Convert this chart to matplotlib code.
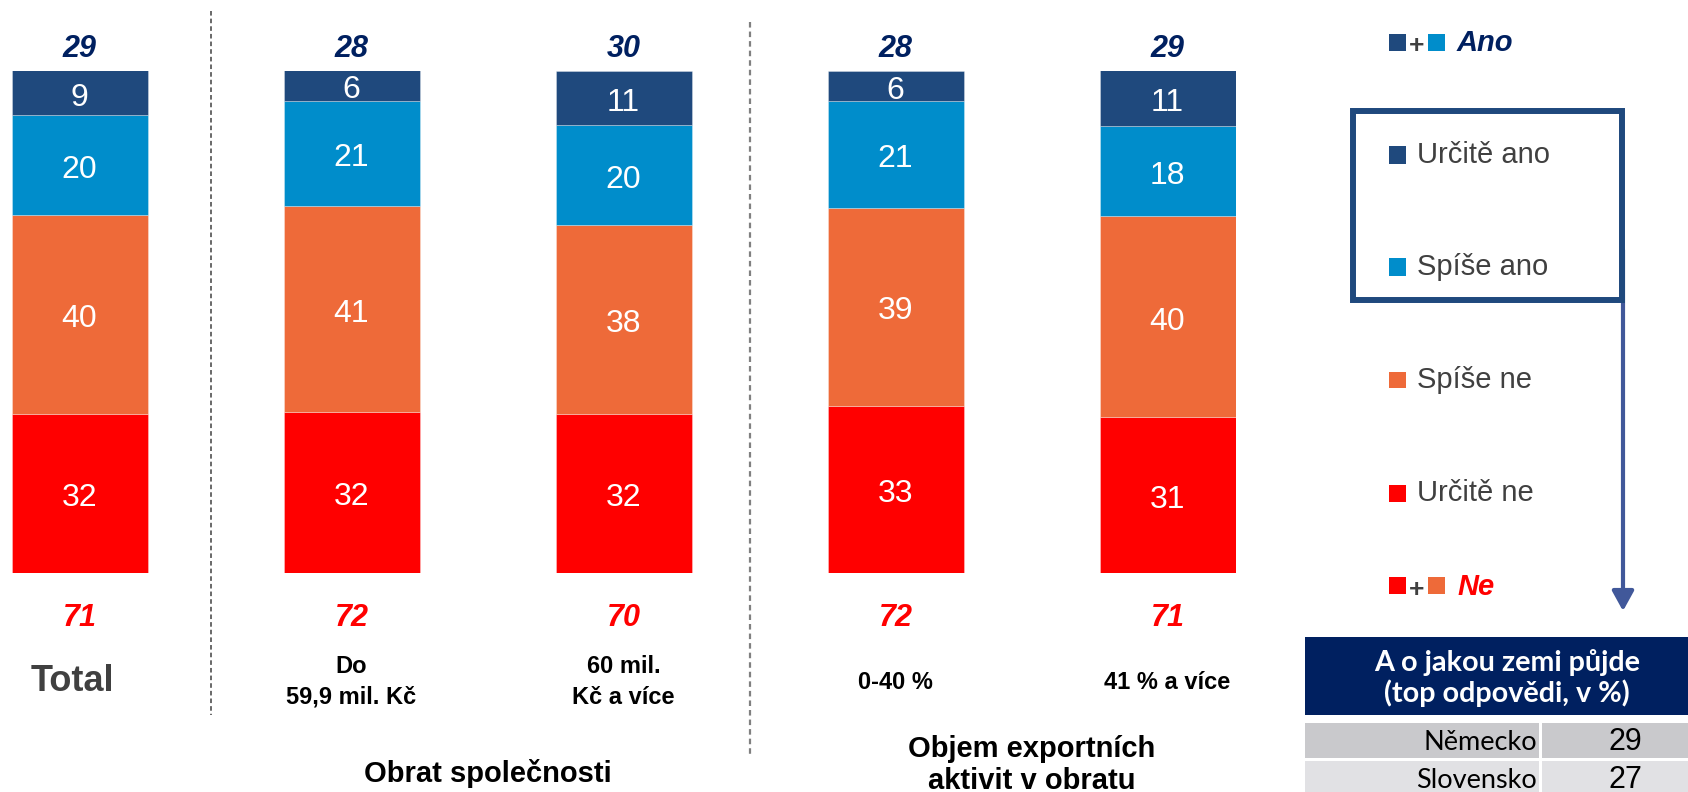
import numpy as np
import matplotlib
matplotlib.use("Agg")
import matplotlib.pyplot as plt
from matplotlib.patches import Rectangle, FancyArrowPatch, ArrowStyle
from matplotlib.lines import Line2D

plt.rcParams['font.family'] = ['Liberation Sans', 'DejaVu Sans']

# data
categories = ["Total", "Do\n59,9 mil. Kč", "60 mil.\nKč a více", "0-40 %", "41 % a více"]
urcite_ano = [9, 6, 11, 6, 11]
spise_ano = [20, 21, 20, 21, 18]
spise_ne = [40, 41, 38, 39, 40]
urcite_ne = [32, 32, 32, 33, 31]
ano_total = [29, 28, 30, 28, 29]
ne_total = [71, 72, 70, 72, 71]
groups = ["Obrat společnosti", "Objem exportních\naktivit v obratu"]
series_names = ["Určitě ano", "Spíše ano", "Spíše ne", "Určitě ne"]
countries = ["Německo", "Slovensko"]
country_pct = [29, 27]

colors = {"Určitě ano": "#1F497D", "Spíše ano": "#008DCB",
          "Spíše ne": "#EE6A39", "Určitě ne": "#FF0000"}
NAVY = "#002060"
W, H = 1688, 792


def fx(px):
    return px / W


def fy(py):
    return 1 - py / H


fig = plt.figure(figsize=(W / 100, H / 100), dpi=100)

# bars (100% stacked, bottom to top)
ax = fig.add_axes([fx(11.5), fy(573), (1235.5 - 11.5) / W, (573 - 70.5) / H])
ax.set_xlim(-0.25, 4.25)
ax.set_ylim(0, 100)
ax.axis('off')

x = np.arange(len(categories))
stack = [("Určitě ne", urcite_ne), ("Spíše ne", spise_ne),
         ("Spíše ano", spise_ano), ("Určitě ano", urcite_ano)]
totals = np.sum([s[1] for s in stack], axis=0)
bottom = np.zeros(len(categories))
for name, vals in stack:
    share = np.array(vals) / totals * 100
    ax.bar(x, share, 0.5, bottom=bottom, color=colors[name],
           edgecolor=(1, 1, 1, 0.35), linewidth=0.6)
    for i, v in enumerate(vals):
        ax.annotate(str(v), (x[i], bottom[i] + share[i] / 2), xytext=(0, -3.5),
                    textcoords='offset points', ha='center', va='center',
                    color='white', fontsize=23)
    bottom += share

for i in x:
    ax.annotate(str(ano_total[i]), (i, 100), xytext=(0, 15.5), textcoords='offset points',
                ha='center', va='center', fontsize=22, fontweight='bold',
                fontstyle='italic', color=NAVY)
    ax.annotate(str(ne_total[i]), (i, 0), xytext=(0, -32.5), textcoords='offset points',
                ha='center', va='center', fontsize=22, fontweight='bold',
                fontstyle='italic', color='#FF0000')
    if i == 0:
        ax.annotate(categories[i], (i, 0), xytext=(-5, -78), textcoords='offset points',
                    ha='center', va='center', fontsize=26, fontweight='bold', color='#404040')
    else:
        ax.annotate(categories[i], (i, 0), xytext=(0, -78.5), textcoords='offset points',
                    ha='center', va='center', fontsize=17, fontweight='bold', color='black',
                    linespacing=1.4)

# group titles
fig.text(fx(487.5), fy(773), groups[0], ha='center', va='center',
         fontsize=21, fontweight='bold', color='black')
fig.text(fx(1032), fy(765), groups[1], ha='center', va='center',
         fontsize=21, fontweight='bold', color='black', linespacing=1.15)

# dashed separators
fig.add_artist(Line2D([fx(211), fx(211)], [fy(11), fy(715)], color='#404040',
                      lw=1.1, dashes=(3, 2)))
fig.add_artist(Line2D([fx(750), fx(750)], [fy(22), fy(754)], color='#808080',
                      lw=1.6, dashes=(2.5, 1.8)))


# legend
def square(px, py, color, size=17):
    fig.add_artist(Rectangle((fx(px), fy(py + size / 2)), size / W, size / H,
                             transform=fig.transFigure, color=color, lw=0))


square(1389, 42, colors["Určitě ano"])
fig.text(fx(1417), fy(46), "+", ha='center', va='center', fontsize=19,
         fontweight='bold', color='#404040')
square(1428, 42, colors["Spíše ano"])
fig.text(fx(1457), fy(43), "Ano", ha='left', va='center', fontsize=21,
         fontweight='bold', fontstyle='italic', color=NAVY)

legend_y = [155, 267, 380, 493]
for name, ly in zip(series_names, legend_y):
    square(1389, ly, colors[name])
    fig.text(fx(1417), fy(ly), name, ha='left', va='center', fontsize=21, color='#404040')

square(1389, 585, colors["Určitě ne"])
fig.text(fx(1417), fy(590), "+", ha='center', va='center', fontsize=19,
         fontweight='bold', color='#404040')
square(1428, 585, colors["Spíše ne"])
fig.text(fx(1457), fy(587), "Ne", ha='left', va='center', fontsize=21,
         fontweight='bold', fontstyle='italic', color='#FF0000')

# arrow from box to table
arrow = FancyArrowPatch((fx(1623), fy(250)), (fx(1623), fy(611)), transform=fig.transFigure,
                        arrowstyle=ArrowStyle('-|>', head_length=0.6, head_width=0.33),
                        mutation_scale=20, color='#41589A', lw=3, shrinkA=0, shrinkB=0)
fig.add_artist(arrow)
fig.add_artist(Rectangle((fx(1353), fy(300)), (1622 - 1353) / W, (300 - 111) / H,
                         transform=fig.transFigure, fill=False, edgecolor='#1F497D', lw=4.3))

# table
fig.add_artist(Rectangle((fx(1305), fy(715)), (1710 - 1305) / W, (715 - 637) / H,
                         transform=fig.transFigure, color=NAVY, lw=0))
fig.text(fx(1507), fy(678), "A o jakou zemi půjde\n(top odpovědi, v %)", ha='center',
         va='center', fontsize=20.7, fontweight='bold', color='white',
         family=['Lato', 'DejaVu Sans'], linespacing=1.12)
row_colors = ["#C9C9CC", "#E1E1E4"]
for k, (country, pct) in enumerate(zip(countries, country_pct)):
    top = 723 + k * 38
    fig.add_artist(Rectangle((fx(1305), fy(top + 35)), (1539 - 1305) / W, 35 / H,
                             transform=fig.transFigure, color=row_colors[k], lw=0))
    fig.add_artist(Rectangle((fx(1542), fy(top + 35)), (1710 - 1542) / W, 35 / H,
                             transform=fig.transFigure, color=row_colors[k], lw=0))
    fig.text(fx(1537), fy(top + 19), country, ha='right', va='center', fontsize=19.5,
             color='black', family=['Lato', 'DejaVu Sans'])
    fig.text(fx(1625), fy(top + 19), str(pct), ha='center', va='center', fontsize=22,
             color='black')

fig.savefig("out.png", dpi=100)
